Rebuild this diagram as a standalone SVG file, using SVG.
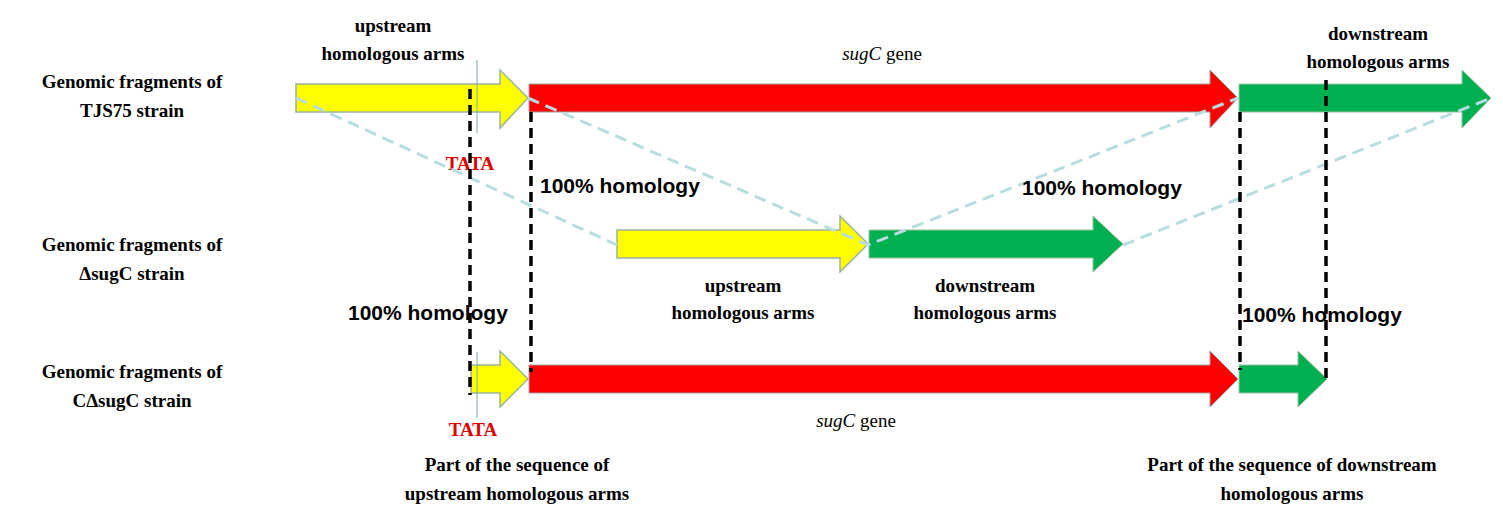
<svg xmlns="http://www.w3.org/2000/svg" width="1503" height="516" viewBox="0 0 1503 516">
<style>
.s{font-family:"Liberation Serif",serif;font-weight:bold;font-size:19px;fill:#000}
.h{font-family:"Liberation Sans",sans-serif;font-weight:bold;font-size:21px;fill:#000}
.t{font-family:"Liberation Serif",serif;font-weight:bold;font-size:19px;fill:#e00000}
.y{fill:#ffff00;stroke:#9bb39b;stroke-width:1.5}
.r{fill:#ff0000;stroke:#a0a0a0;stroke-width:1}
.g{fill:#00b050;stroke:#a0c0a0;stroke-width:1}
.bd{stroke:#000;stroke-width:3.5;stroke-dasharray:10,6;fill:none}
.ld{stroke:#b7dde0;stroke-width:3;stroke-dasharray:12,7;fill:none}
.thin{stroke:#7fa7b0;stroke-width:1}
</style>
<rect width="1503" height="516" fill="#fff"/>
<g id="labels">
<text class="s" x="132" y="88" text-anchor="middle">Genomic fragments of</text>
<text class="s" x="132" y="117" text-anchor="middle">TJS75 strain</text>
<text class="s" x="132" y="251" text-anchor="middle">Genomic fragments of</text>
<text class="s" x="132" y="280" text-anchor="middle">ΔsugC strain</text>
<text class="s" x="132" y="378" text-anchor="middle">Genomic fragments of</text>
<text class="s" x="132" y="407" text-anchor="middle">CΔsugC strain</text>
</g>
<g id="row1">
<path class="y" d="M296,84 H500 V70 L528,98 L500,128 V112 H296 Z"/>
<path class="r" d="M529,84 H1210 V70 L1238,98 L1210,128 V112 H529 Z"/>
<path class="g" d="M1239,84 H1462 V70 L1491,98 L1462,128 V112 H1239 Z"/>
<line class="thin" x1="477" y1="60" x2="477" y2="133"/>
<text class="s" x="393" y="32" text-anchor="middle">upstream</text>
<text class="s" x="393" y="60" text-anchor="middle">homologous arms</text>
<text class="s" x="882" y="60" text-anchor="middle"><tspan font-style="italic" font-weight="normal">sugC</tspan><tspan font-weight="normal"> gene</tspan></text>
<text class="s" x="1378" y="40" text-anchor="middle">downstream</text>
<text class="s" x="1378" y="68" text-anchor="middle">homologous arms</text>
<text class="t" x="470" y="170" text-anchor="middle">TATA</text>
</g>
<g id="row2">
<path class="y" d="M617,230 H840 V216 L868,244 L840,272 V258 H617 Z"/>
<path class="g" d="M869,230 H1093 V216 L1123,244 L1093,272 V258 H869 Z"/>
<text class="s" x="743" y="292" text-anchor="middle">upstream</text>
<text class="s" x="743" y="319" text-anchor="middle">homologous arms</text>
<text class="s" x="985" y="292" text-anchor="middle">downstream</text>
<text class="s" x="985" y="319" text-anchor="middle">homologous arms</text>
</g>
<g id="row3">
<path class="y" d="M471,365 H500 V351 L528,379 L500,407 V393 H471 Z"/>
<path class="r" d="M529,365 H1210 V351 L1238,379 L1210,407 V393 H529 Z"/>
<path class="g" d="M1239,365 H1298 V351 L1327,379 L1298,407 V393 H1239 Z"/>
<line class="thin" x1="477" y1="352" x2="477" y2="418"/>
<text class="t" x="473" y="436" text-anchor="middle">TATA</text>
<text class="s" x="856" y="427" text-anchor="middle"><tspan font-style="italic" font-weight="normal">sugC</tspan><tspan font-weight="normal"> gene</tspan></text>
<text class="s" x="517" y="471" text-anchor="middle">Part of the sequence of</text>
<text class="s" x="517" y="500" text-anchor="middle">upstream homologous arms</text>
<text class="s" x="1292" y="471" text-anchor="middle">Part of the sequence of downstream</text>
<text class="s" x="1292" y="500" text-anchor="middle">homologous arms</text>
</g>
<g id="connectors">
<path class="ld" d="M296,98 L617,245 M528,98 L868,245 L1238,98 M1123,245 L1491,98"/>
<path class="bd" d="M470,89 V395 M531,112 V372 M1240,112 V370 M1326,80 V380"/>
<text class="h" x="540" y="193">100% homology</text>
<text class="h" x="1022" y="195">100% homology</text>
<text class="h" x="348" y="320">100% homology</text>
<text class="h" x="1242" y="322">100% homology</text>
</g>
</svg>
